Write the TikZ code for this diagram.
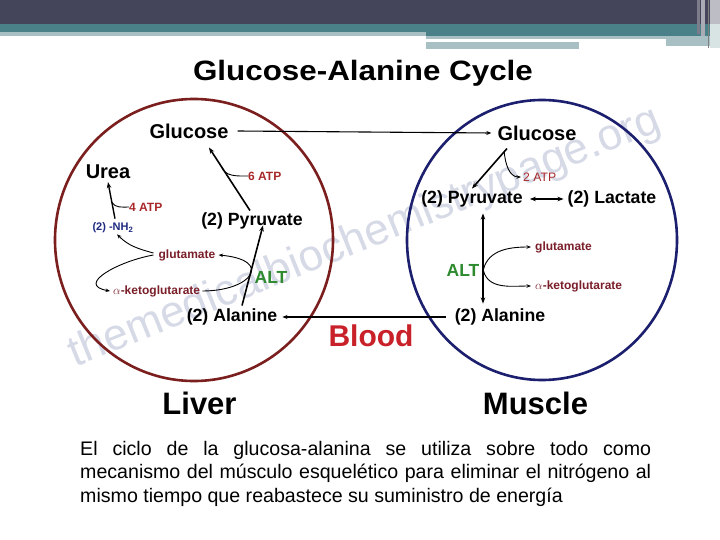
\documentclass[tikz,border=0pt]{standalone}
\usepackage{fontspec}
\setmainfont{Liberation Sans}
\usetikzlibrary{arrows.meta,calc}
\definecolor{hdark}{HTML}{44445A}
\definecolor{hteal}{HTML}{4A8088}
\definecolor{hlight}{HTML}{A8C0C4}
\definecolor{liverc}{HTML}{7B1E1E}
\definecolor{musclec}{HTML}{1C1F6E}
\definecolor{atpred}{HTML}{A8282A}
\definecolor{glutc}{HTML}{7A1F2A}
\definecolor{nhc}{HTML}{1F2A80}
\definecolor{altgreen}{HTML}{2E8A2E}
\definecolor{bloodred}{HTML}{C9212A}
\definecolor{wmcol}{HTML}{D6D9E6}
\begin{document}
\begin{tikzpicture}[x=1pt,y=-1pt,
  every node/.style={inner sep=0pt},
  lblbig/.style={font=\bfseries\fontsize{20}{24}\selectfont},
  lblmid/.style={font=\bfseries\fontsize{17.7}{21}\selectfont},
  lblhuge/.style={font=\bfseries\fontsize{31}{36}\selectfont},
  lblsmall/.style={font=\bfseries\fontsize{12}{14}\selectfont},
  atplbl/.style={lblsmall, text=atpred},
  metlbl/.style={lblsmall, text=glutc},
  altlbl/.style={font=\bfseries\fontsize{17.5}{21}\selectfont, text=altgreen},
  mainarr/.style={-{Stealth[length=6pt,width=4.5pt]}, line width=1.6pt},
  connarr/.style={-{Stealth[length=5pt,width=4pt]}, line width=1.1pt},
  curvarr/.style={-{Stealth[length=4.5pt,width=3.5pt]}, line width=0.9pt},
  dblarr/.style={{Stealth[length=6pt,width=4.5pt]}-{Stealth[length=6pt,width=4.5pt]}},
  branch/.style={line width=0.9pt},
  ]
\useasboundingbox (0,0) rectangle (720,540);
\fill[white] (0,0) rectangle (720,540);
% header bars
\fill[hdark] (0,0) rectangle (720,24);
\fill[hteal] (0,24) rectangle (720,32);
\fill[hlight] (0,32) rectangle (426,36);
\fill[hteal] (426,32) rectangle (720,36);
\fill[hlight] (426,36) rectangle (720,46);
\fill[white] (426,39) rectangle (666,42);
\fill[hlight] (426,42) rectangle (579,49);
\fill[white] (579,42) rectangle (666,46);
\fill[hdark!70!white] (697,0) rectangle (700,34);
\fill[hdark!45!white] (701,0) rectangle (705,36);
\fill[hdark!35!white] (710,0) rectangle (720,24);
\fill[hlight!45!white] (710,24) rectangle (720,48);
\draw[gray, line width=1pt] (708,0) -- (708,48);
% watermark
\node[text=wmcol, rotate=22, font=\fontsize{44}{50}\selectfont] (wm) at (365,238) {themedicalbiochemistrypage.org};
% circles
\draw[liverc, line width=2.6pt] (194,240) ellipse [x radius=139pt, y radius=141pt];
\draw[musclec, line width=2.6pt] (542,240) ellipse [x radius=135pt, y radius=140pt];
% title
\node[font=\bfseries\fontsize{28}{32}\selectfont] (title) at (363,73) {\scalebox{1.12}[1]{Glucose-Alanine Cycle}};
% liver nodes
\node[lblbig] (gL) at (189,131) {Glucose};
\node[lblbig] (urea) at (108,172) {Urea};
\node[font=\bfseries\fontsize{11}{13}\selectfont, text=nhc] (nh2) at (113,228) {(2) -NH\textsubscript{2}};
\node[atplbl, anchor=west] (atp4) at (129,207) {4 ATP};
\node[metlbl] (glutL) at (187,255) {glutamate};
\node[metlbl, anchor=west] (akgL) at (113,291) {$\alpha$-ketoglutarate};
\node[altlbl] (altL) at (271,277) {ALT};
\node[lblmid] (pyrL) at (252,221) {(2) Pyruvate};
\node[atplbl, anchor=west] (atp6) at (248,176) {6 ATP};
\node[lblmid] (alaL) at (232,317) {(2) Alanine};
% muscle nodes
\node[lblbig] (gR) at (537,133) {Glucose};
\node[lblmid] (pyrR) at (472,199) {(2) Pyruvate};
\node[lblmid] (lacR) at (612,199) {(2) Lactate};
\node[font=\fontsize{12.2}{14}\selectfont, text=atpred, anchor=west] (atp2) at (523,177) {2 ATP};
\node[altlbl] (altR) at (463,270) {ALT};
\node[metlbl, anchor=west] (glutR) at (535,247) {glutamate};
\node[metlbl, anchor=west] (akgR) at (535,286) {$\alpha$-ketoglutarate};
\node[lblmid] (alaR) at (500,317) {(2) Alanine};
% labels
\node[font=\bfseries\fontsize{30}{36}\selectfont, text=bloodred] (blood) at (371,336) {Blood};
\node[lblhuge] (liver) at (199.5,403) {Liver};
\node[lblhuge] (muscle) at (535.5,403) {Muscle};
% connectors between organs
\draw[connarr] ($(gL.east)+(9,0)$) -- ($(gR.west)+(-6,0)$);
\draw[connarr] ($(alaR.west)+(-9,0)$) -- ($(alaL.east)+(5,0)$);
% liver connectors
\draw[mainarr] ($(pyrL.north)+(-2,-2)$) -- coordinate[pos=0.7] (b6) ($(gL.south)+(20,9)$);
\draw[branch] (b6) to[out=-70,in=180] (atp6.west);
\draw[mainarr] ($(alaL.north)+(10,-3)$) -- ($(pyrL.south)+(11,-4)$);
\draw[mainarr, line width=1.4pt] ($(nh2.north)+(2,-4)$) -- coordinate[pos=0.45] (b4) ($(urea.south)+(0,3)$);
\draw[branch] (b4) to[out=-60,in=180] (atp4.west);
\draw[curvarr] ($(glutL.west)+(-5,-2)$) to[out=165,in=-45] ($(nh2.south)+(4,1)$);
\draw[curvarr] ($(glutL.west)+(-5,0)$) to[out=190,in=170,looseness=1.6] ($(akgL.west)+(-3,0)$);
\draw[curvarr] ($(akgL.east)+(2,0)$) .. controls +(50,0) and +(55,5) .. ($(glutL.east)+(3,0)$);
% muscle connectors
\draw[mainarr] ($(gR.south)+(-30,8)$) -- coordinate[pos=0.08] (b2) ($(pyrR.north)+(0,-2)$);
\draw[curvarr] (b2) to[out=-85,in=180] ($(atp2.west)+(-2,0)$);
\draw[dblarr, line width=1.4pt] ($(pyrR.east)+(7,0)$) -- ($(lacR.west)+(-4,0)$);
\draw[dblarr, line width=1.8pt] ($(pyrR.south)+(11,6)$) -- ($(alaR.north)+(-17,-5)$);
\draw[curvarr] ($(altR.east)+(4,-1)$) to[out=75,in=180] ($(glutR.west)+(-4,0)$);
\draw[curvarr] ($(altR.east)+(4,1)$) to[out=-75,in=180] ($(akgR.west)+(-4,0)$);
% paragraph
\node[anchor=north west, font=\fontsize{19.6}{23.5}\selectfont, align=left] (para) at (80,441)
  {\makebox[571pt][s]{El ciclo de la glucosa-alanina se utiliza sobre todo como}\\
   \makebox[571pt][s]{mecanismo del músculo esquelético para eliminar el nitrógeno al}\\
   mismo tiempo que reabastece su suministro de energía};
\end{tikzpicture}
\end{document}
